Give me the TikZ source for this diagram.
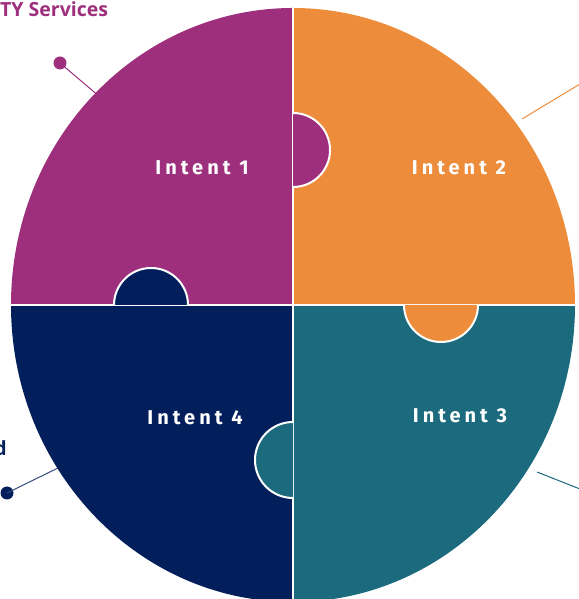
\documentclass[tikz,border=0pt]{standalone}
\usepackage{fontspec}
\setmainfont{Open Sans}
\newfontfamily\labfont[LetterSpace=20]{Fira Sans}
\definecolor{cpurple}{HTML}{9D2F7D}
\definecolor{corange}{HTML}{ED8D3B}
\definecolor{cteal}{HTML}{1B6A7D}
\definecolor{cnavy}{HTML}{021F5C}
\begin{document}
\begin{tikzpicture}[x=1pt,y=1pt,
  lab/.style={text=white,font=\labfont\bfseries\fontsize{20}{20}\selectfont,inner sep=0pt},
  outer/.style={font=\bfseries\fontsize{19.5}{20}\selectfont,inner sep=0pt},
  conn/.style={line width=1pt},
  knobline/.style={white,line width=2pt},
  divline/.style={white,line width=2.4pt}]
\useasboundingbox (0,0) rectangle (578,599);
% connectors
\coordinate (pe) at (100,502);
\node[circle,fill=cpurple,minimum size=13pt,inner sep=0pt] (pdot) at (60,536) {};
\draw[conn,cpurple] (pdot.center) -- (pe);
\coordinate (ne) at (60,132);
\node[circle,fill=cnavy,minimum size=13pt,inner sep=0pt] (ndot) at (7,106) {};
\draw[conn,cnavy!80] (ndot.center) -- (ne);
\coordinate (oe) at (522,480);
\coordinate (of) at (580,515);
\draw[conn,corange] (oe) -- (of);
\coordinate (te) at (537,127);
\coordinate (tf) at (580,110);
\draw[conn,cteal] (te) -- (tf);
% puzzle
\begin{scope}
\clip (293,294) ellipse [x radius=282, y radius=297];
\fill[cpurple] (0,294) rectangle (293,599);
\fill[corange] (293,294) rectangle (578,599);
\fill[cnavy] (0,0) rectangle (293,294);
\fill[cteal] (293,0) rectangle (578,294);
\draw[divline] (293,0) -- (293,599);
\draw[divline] (0,294) -- (578,294);
\end{scope}
% knobs
\draw[knobline,fill=cpurple] (293,486) arc (90:-90:37);
\draw[knobline,fill=cnavy] (114,294) arc (180:0:37);
\draw[knobline,fill=corange] (404,294) arc (180:360:37);
\draw[knobline,fill=cteal] (293,177) arc (90:270:38);
% labels
\node[lab] (i1) at (202,431) {Intent 1};
\node[lab] (i2) at (459,431) {Intent 2};
\node[lab] (i3) at (460,183) {Intent 3};
\node[lab] (i4) at (195,181) {Intent 4};
\node[outer,text=cpurple,anchor=base west] (t1) at (0,582) {TY Services};
\node[outer,text=cnavy,anchor=base east] (t2) at (7,143) {d};
\end{tikzpicture}
\end{document}
